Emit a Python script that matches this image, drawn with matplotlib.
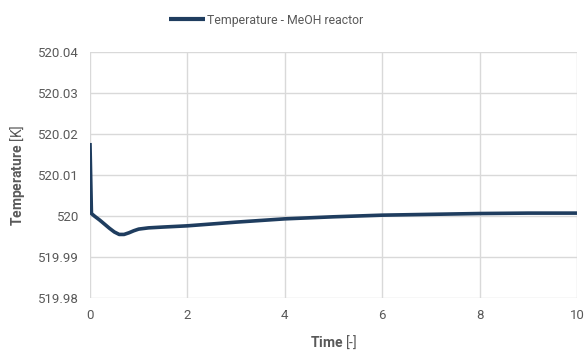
import matplotlib
matplotlib.use("Agg")
import matplotlib.pyplot as plt
from matplotlib.ticker import FixedLocator

plt.rcParams['font.family'] = ['Roboto', 'DejaVu Sans']
plt.rcParams['mathtext.fontset'] = 'custom'
plt.rcParams['mathtext.rm'] = 'Roboto'
plt.rcParams['mathtext.bf'] = 'Roboto:bold'

time = [0, 0.03, 0.1, 0.2, 0.3, 0.4, 0.5, 0.6, 0.7, 0.8, 0.9, 1.0, 1.2, 1.5,
        2, 3, 4, 5, 6, 7, 8, 9, 10]
temperature = [520.0178, 520.0006, 519.9999, 519.9990, 519.9980, 519.9970,
               519.9961, 519.9955, 519.9955, 519.9959, 519.9964, 519.9968,
               519.9971, 519.9973, 519.9976, 519.9985, 519.9993, 519.9998,
               520.0002, 520.0004, 520.0006, 520.0007, 520.0007]
series_label = "Temperature - MeOH reactor"
y_ticks = [519.98, 519.99, 520.0, 520.01, 520.02, 520.03, 520.04]
y_tick_labels = ["519.98", "519.99", "520", "520.01", "520.02", "520.03", "520.04"]
x_ticks = [0, 2, 4, 6, 8, 10]

line_color = "#1f3d5f"
text_color = "#595959"
grid_color = "#d9d9d9"

fig = plt.figure(figsize=(5.85, 3.51), dpi=100)
ax = fig.add_axes([0.1538, 0.151, 0.8325, 0.701])
ax.plot(time, temperature, color=line_color, lw=2.6, label=series_label,
        solid_capstyle='butt', zorder=3)
ax.set_xlim(0, 10)
ax.set_ylim(519.98, 520.04)
ax.xaxis.set_major_locator(FixedLocator(x_ticks))
ax.set_xticklabels([str(v) for v in x_ticks])
ax.yaxis.set_major_locator(FixedLocator(y_ticks))
ax.set_yticklabels(y_tick_labels)
ax.grid(True, color=grid_color, lw=1.0)
ax.set_axisbelow(True)
for s in ax.spines.values():
    s.set_visible(False)
ax.tick_params(length=0, labelsize=9.5, labelcolor=text_color, pad=8)
ax.set_xlabel(r'$\mathbf{Time}$ [-]', fontsize=10, color=text_color, labelpad=8)
ax.set_ylabel(r'$\mathbf{Temperature}$ [K]', fontsize=10, color=text_color, labelpad=8)

leg = fig.legend(loc='center', bbox_to_anchor=(0.455, 0.943), frameon=False,
                 fontsize=8.8, handlelength=2.9, handletextpad=0.15)
for line in leg.get_lines():
    line.set_linewidth(3.0)
for t in leg.get_texts():
    t.set_color(text_color)

fig.savefig("out.png", dpi=100)
